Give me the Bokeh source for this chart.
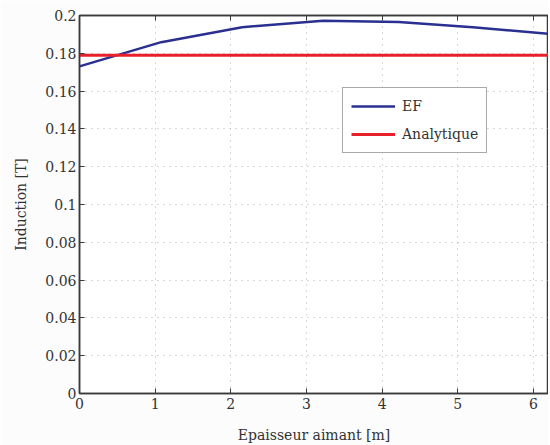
from bokeh.plotting import figure
from bokeh.models import LinearAxis, FixedTicker, Range1d, Legend, LegendItem
from bokeh.embed import file_html
from bokeh.resources import INLINE

x_ef = [0.0, 1.08, 2.15, 3.22, 4.22, 5.2, 6.2]
y_ef = [0.1731, 0.1859, 0.1938, 0.1972, 0.1966, 0.1938, 0.1903]
x_an = [0.0, 6.2]
y_an = [0.179, 0.179]
x_ticks = [0, 1, 2, 3, 4, 5, 6]
y_ticks = [0, 0.02, 0.04, 0.06, 0.08, 0.1, 0.12, 0.14, 0.16, 0.18, 0.2]
y_tick_labels = ["0", "0.02", "0.04", "0.06", "0.08", "0.1", "0.12", "0.14", "0.16", "0.18", "0.2"]

FONT = "DejaVu Serif"
AX = "#3a3a3a"

p = figure(width=548, height=445, output_backend="svg", toolbar_location=None,
           x_range=Range1d(0, 6.2), y_range=Range1d(0, 0.2),
           min_border_left=79, min_border_right=0, min_border_top=15, min_border_bottom=51,
           x_axis_label="Epaisseur aimant [m]", y_axis_label="Induction [T]")
p.background_fill_color = "white"
p.border_fill_color = "#fcfcfc"
p.outline_line_color = AX
p.outline_line_width = 1.5

l1 = p.line(x_ef, y_ef, line_color="#2a2f90", line_width=2.5)
l2 = p.line(x_an, y_an, line_color="#e8202a", line_width=3)

for ax in [p.xaxis[0], p.yaxis[0]]:
    ax.axis_line_color = AX
    ax.axis_line_width = 1.5
    ax.major_tick_line_color = AX
    ax.major_tick_in = 5
    ax.major_tick_out = 0
    ax.minor_tick_line_color = None
    ax.major_label_text_font = FONT
    ax.major_label_text_font_size = "14px"
    ax.major_label_text_color = "#333333"
    ax.axis_label_text_font = FONT
    ax.axis_label_text_font_size = "14px"
    ax.axis_label_text_font_style = "normal"
    ax.axis_label_text_color = "#333333"

p.xaxis[0].ticker = FixedTicker(ticks=x_ticks)
p.yaxis[0].ticker = FixedTicker(ticks=y_ticks)
p.yaxis[0].major_label_overrides = {t: s for t, s in zip(y_ticks, y_tick_labels)}
p.xaxis[0].major_label_standoff = 4
p.yaxis[0].major_label_standoff = 3
p.xaxis[0].axis_label_standoff = 15
p.yaxis[0].axis_label_standoff = 13

top = LinearAxis(ticker=FixedTicker(ticks=x_ticks), major_label_text_color=None,
                 axis_line_color=AX, axis_line_width=1.5, major_tick_line_color=AX,
                 major_tick_in=5, major_tick_out=0, minor_tick_line_color=None,
                 major_label_standoff=0)
p.add_layout(top, "above")

p.xgrid.ticker = FixedTicker(ticks=x_ticks)
p.ygrid.ticker = FixedTicker(ticks=y_ticks)
for g in [p.xgrid[0], p.ygrid[0]]:
    g.grid_line_color = "#b0b0b0"
    g.grid_line_dash = "1 5"
    g.grid_line_width = 1

legend = Legend(items=[LegendItem(label="EF", renderers=[l1]),
                       LegendItem(label="Analytique", renderers=[l2])],
                location=(263, 240))
legend.label_text_font = FONT
legend.label_text_font_size = "14px"
legend.label_text_color = "#333333"
legend.border_line_color = "#555555"
legend.border_line_width = 1
legend.glyph_width = 44
legend.spacing = 8
legend.padding = 8
legend.margin = 0
legend.label_standoff = 7
p.add_layout(legend)

open("out.html", "w").write(file_html(p, INLINE))
